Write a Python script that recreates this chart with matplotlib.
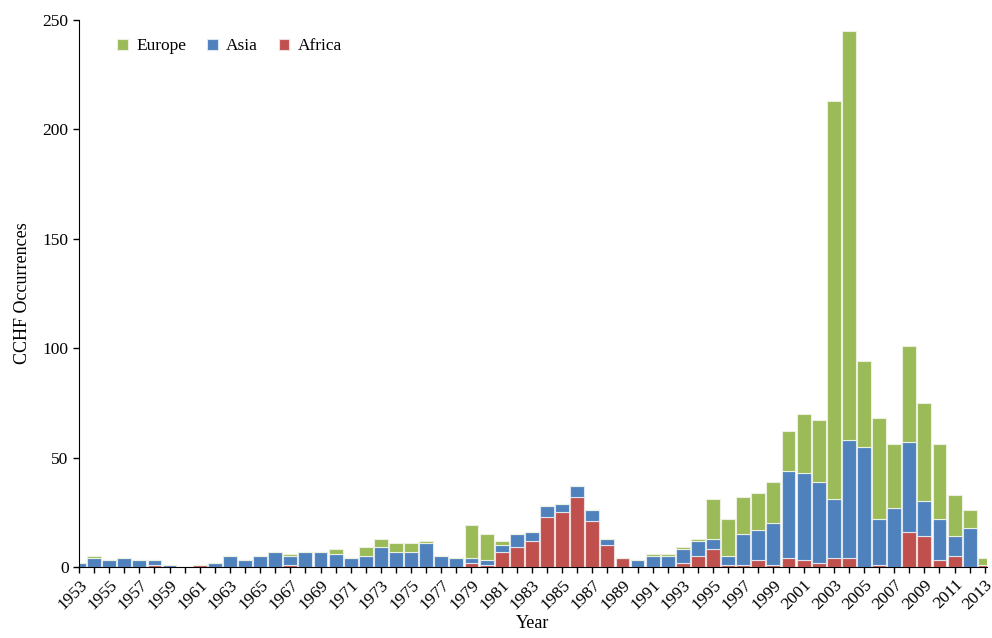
import matplotlib.pyplot as plt
import numpy as np

# CCHF occurrences per year, stacked by region
years = list(range(1953, 2014))

africa = [0, 0, 0, 0, 0, 1, 0, 0, 1, 0,
          0, 0, 0, 0, 1, 0, 0, 0, 0, 0,
          0, 0, 0, 0, 0, 0, 2, 1, 7, 9,
          12, 23, 25, 32, 21, 10, 4, 0, 0, 0,
          2, 5, 8, 1, 1, 3, 1, 4, 3, 2,
          4, 4, 0, 1, 0, 16, 14, 3, 5, 0,
          1]
asia = [2, 4, 3, 4, 3, 2, 1, 0, 0, 2,
        5, 3, 5, 7, 4, 7, 7, 6, 4, 5,
        9, 7, 7, 11, 5, 4, 2, 2, 3, 6,
        4, 5, 4, 5, 5, 3, 0, 3, 5, 5,
        6, 7, 5, 4, 14, 14, 19, 40, 40, 37,
        27, 54, 55, 21, 27, 41, 16, 19, 9, 18,
        0]
europe = [0, 1, 0, 0, 0, 0, 0, 0, 0, 0,
          0, 0, 0, 0, 1, 0, 0, 2, 0, 4,
          4, 4, 4, 1, 0, 0, 15, 12, 2, 0,
          0, 0, 0, 0, 0, 0, 0, 0, 1, 1,
          1, 1, 18, 17, 17, 17, 19, 18, 27, 28,
          182, 187, 39, 46, 29, 44, 45, 34, 19, 8,
          3]

plt.rcParams['font.family'] = ['Liberation Serif', 'DejaVu Serif']

x = np.array(years)
a = np.array(africa)
b = np.array(asia)
c = np.array(europe)

fig = plt.figure(figsize=(9.92, 6.38), dpi=100)
ax = fig.add_axes([0.0796, 0.1113, 0.9154, 0.8574])

w = 0.92
ax.bar(x, a, width=w, color='#C0504D', edgecolor='#f0dcdc', linewidth=0.8, label='Africa')
ax.bar(x, b, width=w, bottom=a, color='#4F81BD', edgecolor='#dce6f2', linewidth=0.8, label='Asia')
ax.bar(x, c, width=w, bottom=a + b, color='#9BBB59', edgecolor='#ebf1de', linewidth=0.8, label='Europe')

ax.set_xlim(1953, 2013.15)
ax.set_ylim(0, 250)
ax.set_yticks([0, 50, 100, 150, 200, 250])
ax.set_xticks(years)
ax.set_xticklabels([str(y) if (y - 1953) % 2 == 0 else '' for y in years],
                   rotation=45, ha='right', rotation_mode='anchor')

ax.spines['top'].set_visible(False)
ax.spines['right'].set_visible(False)
ax.tick_params(direction='out', length=4, width=1, labelsize=12.5)
ax.tick_params(axis='x', pad=3)

ax.set_xlabel('Year', fontsize=13, labelpad=2)
ax.set_ylabel('CCHF Occurrences', fontsize=13, labelpad=8)

handles, labels = ax.get_legend_handles_labels()
ax.legend(handles[::-1], labels[::-1], loc='upper left', bbox_to_anchor=(0.025, 0.995),
          ncol=3, frameon=False, fontsize=12.5, handlelength=0.6, handleheight=0.6,
          handletextpad=0.5, columnspacing=1.2)

plt.savefig('out.png', dpi=100)
